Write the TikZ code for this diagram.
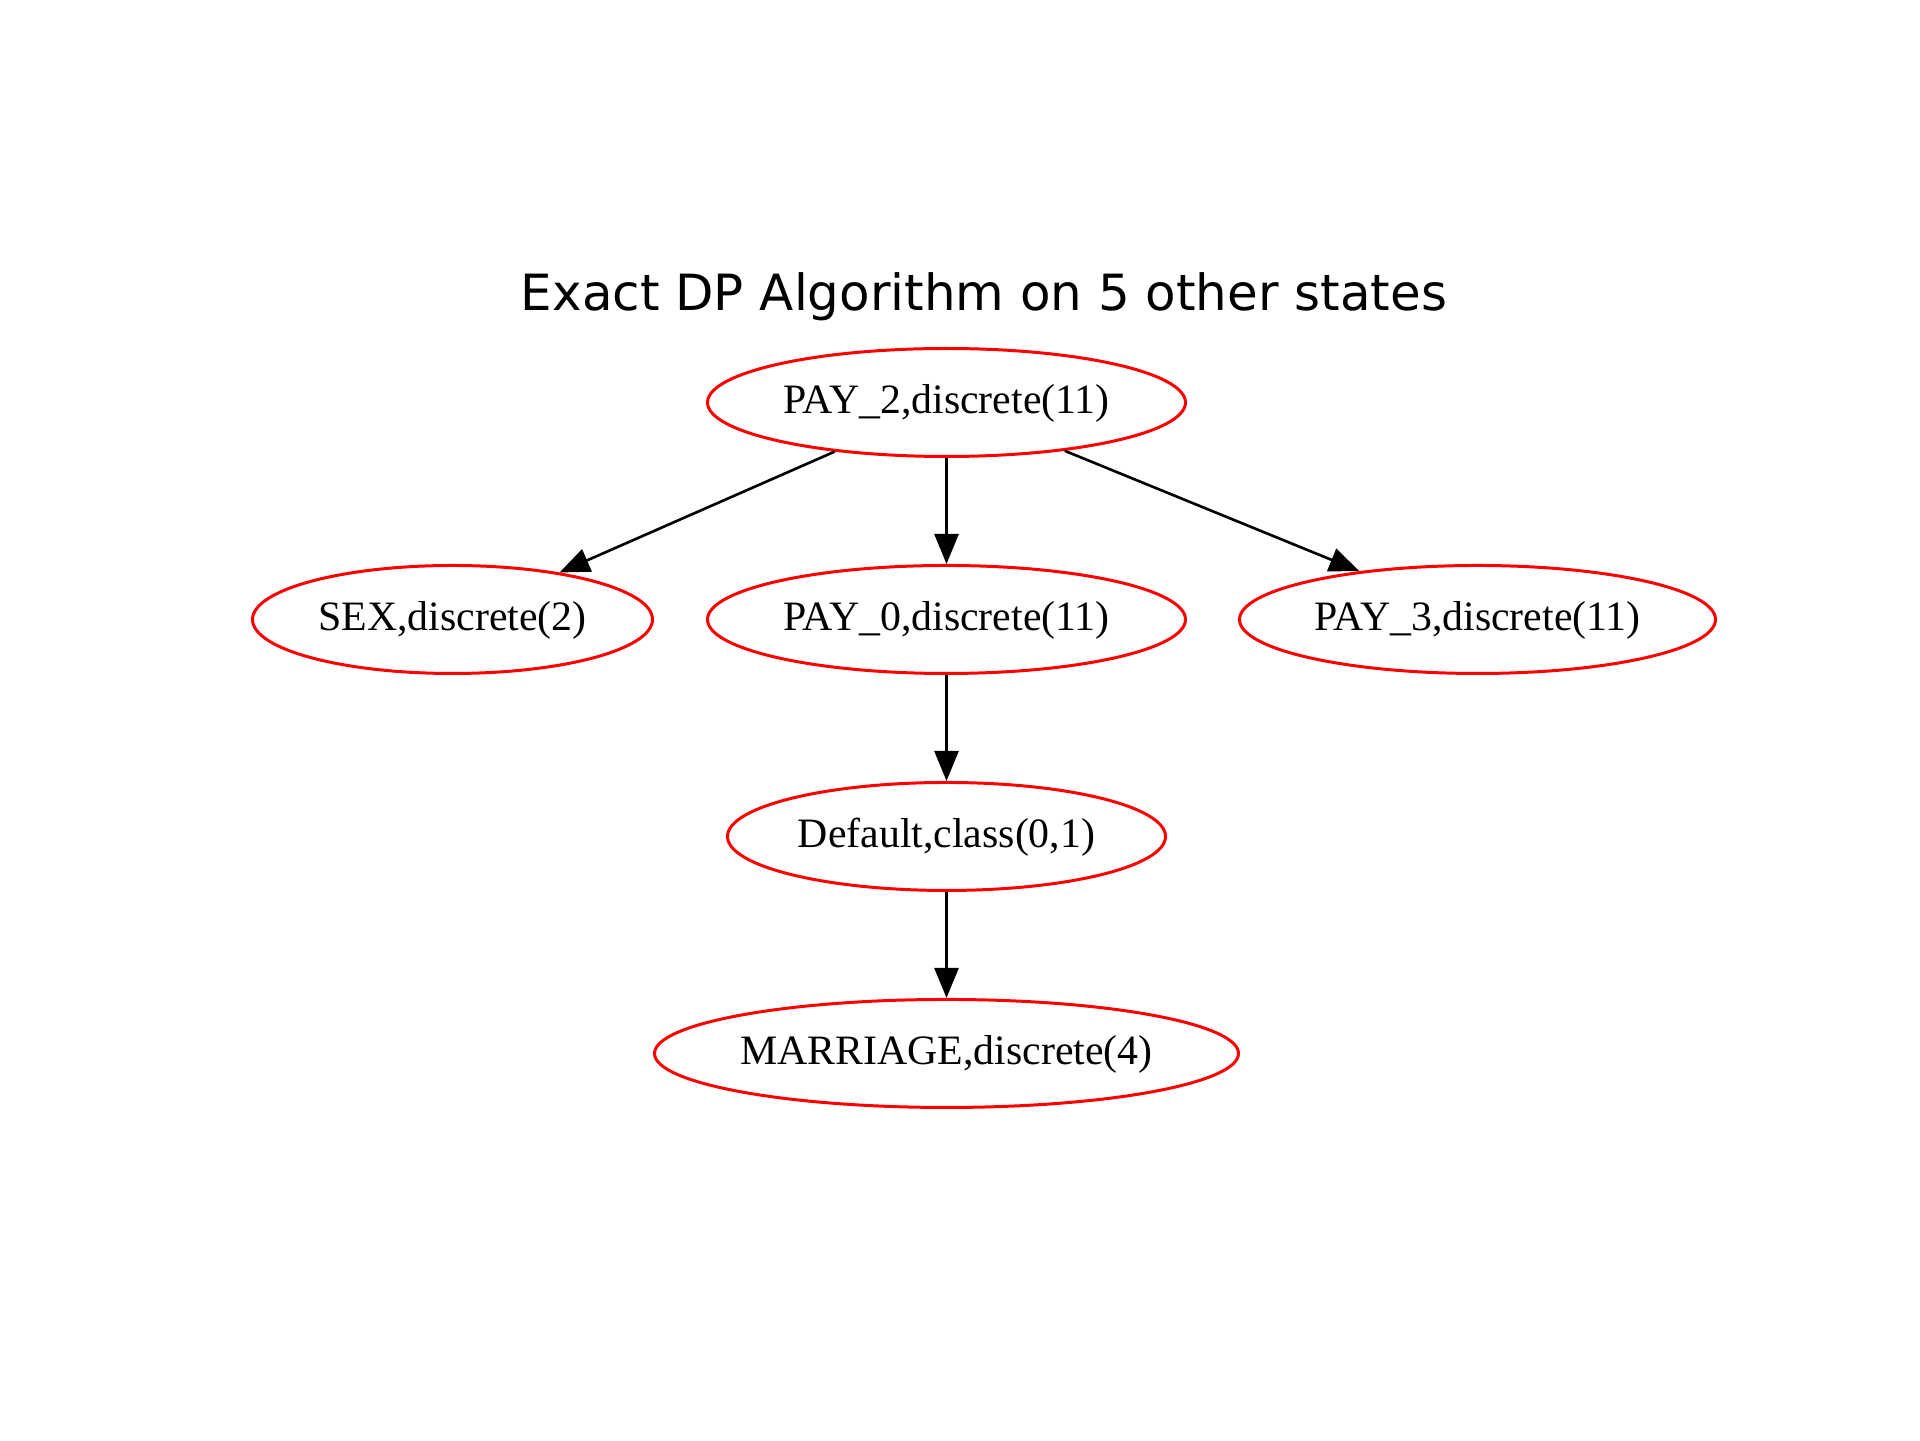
\documentclass[tikz,border=0pt]{standalone}
\usepackage{fontspec}
\setmainfont{Liberation Serif}
\newfontfamily\titlefont{DejaVu Sans}
\usetikzlibrary{arrows.meta, positioning, shapes.geometric}
\tikzset{
    %Define standard arrow tip
    >={Triangle[length=3mm, width=2.4mm]},
}

\begin{document}
\begin{tikzpicture}
    	\tikzset{
	  vn/.style={draw=red, fill=white,
	             %line width=1pt,
		     minimum height=1.08cm,
	             shape=ellipse,
		     inner sep=0pt,
		     text height=8.5pt, text depth=2.1pt,
		     line width=0.85pt,
		     font=\fontsize{11.9}{14}\selectfont},
	 ed/.style={draw, line width=0.75pt}
	},
	\useasboundingbox (0,0) rectangle (19.2,14.4);

	\node[font=\titlefont\fontsize{14.2}{17}\selectfont, anchor=base] (title) at (9.84,11.29) {Exact DP Algorithm on 5 other states};

    	\node [vn, minimum width=4.78cm] (pay2) at (9.465,10.375) {PAY\_2,discrete(11)};
    	\node [vn, minimum width=4.78cm, below =1.06cm of pay2] (pay0) {PAY\_0,discrete(11)};
	\node [vn, minimum width=4.0cm, left =0.52cm of pay0] (sex) {SEX,discrete(2)};
    	\node [vn, minimum width=4.76cm, right =0.51cm of pay0] (pay3) {PAY\_3,discrete(11)};
        \node [vn, minimum width=4.38cm, below =1.06cm of pay0] (default) {Default,class(0,1)};
        \node [vn, minimum width=5.84cm, below =1.06cm of default] (marriage) {MARRIAGE,discrete(4)};

        \path[ed,->] (pay2) edge (sex)
	               (pay2) edge (pay0)
		       (pay2) edge (pay3)
		       (pay0) edge (default)
		       (default) edge (marriage);

    \end{tikzpicture}
\end{document}
